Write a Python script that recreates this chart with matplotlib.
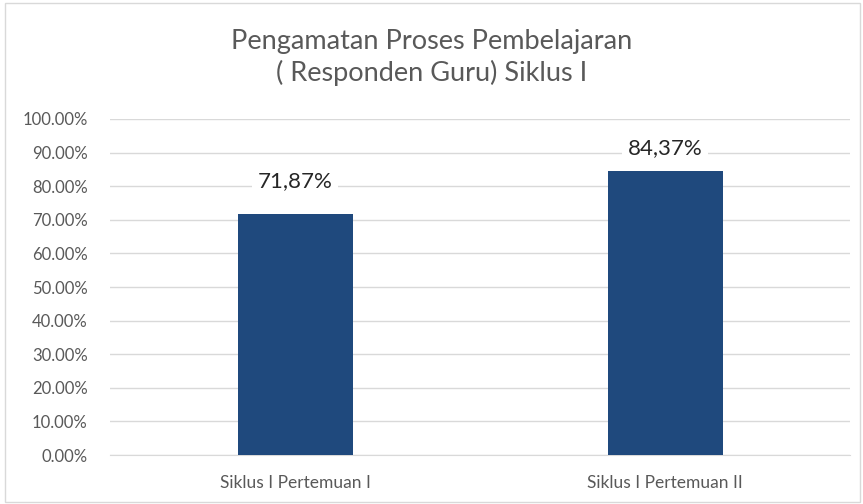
import matplotlib
matplotlib.use("Agg")
import matplotlib.pyplot as plt
from matplotlib.ticker import FuncFormatter
from matplotlib.patches import Rectangle

categories = ["Siklus I Pertemuan I", "Siklus I Pertemuan II"]
values = [71.87, 84.37]
value_labels = ["71,87%", "84,37%"]
title = "Pengamatan Proses Pembelajaran\n( Responden Guru) Siklus I"

plt.rcParams['font.family'] = ['Lato', 'DejaVu Sans']

fig = plt.figure(figsize=(8.63, 5.04), dpi=100)
ax = fig.add_axes([0.1275, 0.097, 0.858, 0.667])

x = range(len(categories))
ax.bar(x, values, width=0.31, color="#1F497D", zorder=3)
ax.set_xlim(-0.5, len(categories) - 0.5)
ax.set_ylim(0, 100)
ax.set_yticks(range(0, 101, 10))
ax.yaxis.set_major_formatter(FuncFormatter(lambda v, p: f"{v:.2f}%"))
ax.set_xticks(list(x))
ax.set_xticklabels(categories)
ax.grid(axis="y", color="#D9D9D9", linewidth=1, zorder=0)
for s in ["top", "right", "left"]:
    ax.spines[s].set_visible(False)
ax.spines["bottom"].set_color("#D9D9D9")
ax.tick_params(axis="y", length=0, labelsize=12, colors="#595959", pad=16)
ax.tick_params(axis="x", length=0, labelsize=12.5, colors="#595959", pad=14)

# label offsets above the bars as in the original
offsets = [9.6, 7.0]
for i, (v, lab) in enumerate(zip(values, value_labels)):
    ax.text(i, v + offsets[i], lab, ha="center", va="center", fontsize=16, color="#262626",
            bbox=dict(facecolor="white", edgecolor="none", pad=4), zorder=4)

fig.text(0.5, 0.886, title, ha="center", va="center", fontsize=19.5, color="#595959",
         linespacing=1.3)

fig.patches.append(Rectangle((0.006, 0.004), 0.99, 0.99, transform=fig.transFigure,
                             fill=False, edgecolor="#D9D9D9", linewidth=1))

fig.savefig("out.png", dpi=100)
